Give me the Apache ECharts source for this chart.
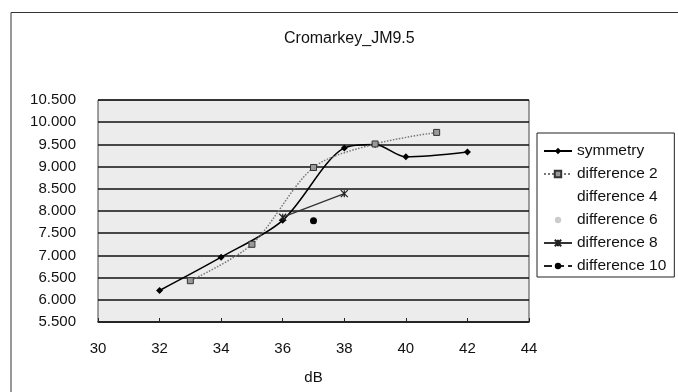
<!DOCTYPE html>
<html>
<head>
<meta charset="utf-8">
<script src="https://cdn.jsdelivr.net/npm/echarts@6/dist/echarts.min.js"></script>
<style>
  html, body { margin: 0; padding: 0; background: #fff; }
  #chart { width: 678px; height: 392px; }
</style>
</head>
<body>
<div id="chart"></div>
<script>
// values (x in dB)
const symmetry = [[32, 6.21], [34, 6.96], [36, 7.79], [38, 9.42], [39, 9.5], [40, 9.22], [42, 9.33]]
const difference2 = [[33, 6.43], [35, 7.25], [37, 8.98], [39, 9.51], [41, 9.77]]
const difference4 = []
const difference6 = []
const difference8 = [[36, 7.86], [38, 8.39]]
const difference10 = [[37, 7.78]]

const seriesNames = ['symmetry', 'difference 2', 'difference 4', 'difference 6', 'difference 8', 'difference 10']
const xTicks = { min: 30, max: 44, step: 2 }
const yTicks = { min: 5.5, max: 10.5, step: 0.5 }

const font = '"Liberation Sans", Arial, sans-serif'
const chart = echarts.init(document.getElementById('chart'))

chart.setOption({
  backgroundColor: '#fff',
  animation: false,
  title: {
    text: 'Cromarkey_JM9.5',
    left: 279,
    top: 26,
    textStyle: { fontFamily: font, fontSize: 16, fontWeight: 'normal', color: '#111' }
  },
  graphic: [{
    type: 'rect',
    shape: { x: 11, y: 12.5, width: 700, height: 400 },
    style: { fill: 'none', stroke: '#333', lineWidth: 1 },
    silent: true
  }],
  legend: {
    orient: 'vertical',
    left: 537,
    top: 133,
    padding: [10, 8, 3, 6],
    itemWidth: 28,
    itemHeight: 8,
    itemGap: 7,
    itemTextGap: 4,
    borderColor: '#222',
    borderWidth: 1,
    backgroundColor: '#fff',
    data: seriesNames.map(name => name === 'difference 6'
      ? { name, itemStyle: { color: '#aaa', opacity: 0.6 } }
      : { name }),
    textStyle: { fontFamily: font, fontSize: 15.5, color: '#111', lineHeight: 16 }
  },
  grid: {
    left: 98,
    right: 149,
    top: 100,
    bottom: 70,
    show: true,
    backgroundColor: '#ececec',
    borderColor: '#444',
    borderWidth: 1
  },
  xAxis: {
    type: 'value',
    min: xTicks.min,
    max: xTicks.max,
    interval: xTicks.step,
    name: 'dB',
    nameLocation: 'middle',
    nameGap: 48,
    nameTextStyle: { fontFamily: font, fontSize: 15, color: '#111' },
    axisLine: { show: true, lineStyle: { color: '#222', width: 1.5 } },
    axisTick: { show: true, inside: true, length: 4, lineStyle: { color: '#222' } },
    axisLabel: { margin: 19, fontFamily: font, fontSize: 15, color: '#111' },
    splitLine: { show: false }
  },
  yAxis: {
    type: 'value',
    min: yTicks.min,
    max: yTicks.max,
    interval: yTicks.step,
    axisLine: { show: false },
    axisTick: { show: false },
    axisLabel: {
      margin: 22,
      fontFamily: font,
      fontSize: 15,
      color: '#111',
      formatter: v => v.toFixed(3)
    },
    splitLine: { show: true, lineStyle: { color: '#111', width: 1.5 } }
  },
  series: [
    {
      name: 'symmetry',
      type: 'line',
      data: symmetry,
      smooth: 0.3,
      symbol: 'diamond',
      symbolSize: 7,
      lineStyle: { color: '#000', width: 1.5 },
      itemStyle: { color: '#000' }
    },
    {
      name: 'difference 2',
      type: 'line',
      data: difference2,
      smooth: 0.3,
      symbol: 'rect',
      symbolSize: 6,
      lineStyle: { color: '#777', width: 1.5, type: 'dotted' },
      itemStyle: { color: '#999', borderColor: '#333', borderWidth: 1 }
    },
    {
      name: 'difference 4',
      type: 'line',
      data: difference4,
      symbol: 'none',
      lineStyle: { color: '#fff', width: 0, opacity: 0 },
      itemStyle: { color: '#fff', opacity: 0 }
    },
    {
      name: 'difference 6',
      type: 'line',
      data: difference6,
      symbol: 'circle',
      symbolSize: 2,
      lineStyle: { color: '#fff', width: 0, opacity: 0 },
      itemStyle: { color: '#555' }
    },
    {
      name: 'difference 8',
      type: 'line',
      data: difference8,
      smooth: 0.3,
      symbol: 'path://M0,0L10,10M10,0L0,10M5,0L5,10',
      symbolSize: 7,
      lineStyle: { color: '#333', width: 1.3 },
      itemStyle: { color: 'none', borderColor: '#222', borderWidth: 1.2 }
    },
    {
      name: 'difference 10',
      type: 'line',
      data: difference10,
      symbol: 'circle',
      symbolSize: 7,
      lineStyle: { color: '#222', width: 1.3, type: 'dashed' },
      itemStyle: { color: '#000' }
    }
  ]
})
</script>
</body>
</html>
